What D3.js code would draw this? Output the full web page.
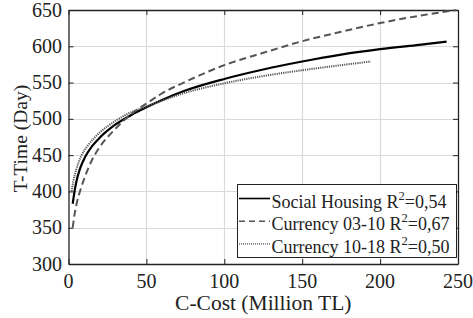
<!DOCTYPE html>
<html><head><meta charset="utf-8"><script src="https://cdn.jsdelivr.net/npm/d3@7"></script></head>
<body style="margin:0">
<script>
// data
var socialX = [2.7, 3.5, 5, 7.5, 10.8, 15, 20, 30, 40, 50, 60, 75, 100, 125, 150, 175, 200, 225, 242.7];
var socialY = [383, 395, 413, 432, 448, 462, 474, 492, 505, 516, 526, 539, 555, 568, 579, 588.5, 596, 602, 606.3];

var cur0310X = [2.7, 3.5, 5, 7.5, 10, 15, 20, 30, 40, 50, 60, 75, 100, 125, 150, 175, 200, 225, 249];
var cur0310Y = [350, 363, 381, 401, 417, 443, 461, 486, 506, 521, 535, 551, 574, 591, 607, 620, 632, 642, 650];

var cur1018X = [2, 3, 5, 8, 12, 20, 30, 40, 50, 60, 75, 100, 125, 150, 175, 194];
var cur1018Y = [400, 413, 430, 448, 462, 481, 497, 509, 517, 525, 536, 549, 559, 567, 574, 579];

var xTicks = [0, 50, 100, 150, 200, 250];
var yTicks = [300, 350, 400, 450, 500, 550, 600, 650];

var legendNames = ["Social Housing", "Currency 03-10", "Currency 10-18"];
var legendR2 = ["0,54", "0,67", "0,50"];

var FONT = "Liberation Serif";

// set the dimensions and margins of the graph
var margin = {top: 10, right: 15, bottom: 54, left: 68.5},
    width = 473 - margin.left - margin.right,
    height = 318 - margin.top - margin.bottom;

var root = d3.select("body")
  .append("svg")
    .attr("width", 473)
    .attr("height", 318)
    .style("font-family", FONT);

var x = d3.scaleLinear().domain([0, 250]).range([margin.left, margin.left + width]);
var y = d3.scaleLinear().domain([300, 650]).range([margin.top + height, margin.top]);

// grid
root.append("g")
  .selectAll("line")
  .data(xTicks.slice(1, -1))
  .enter().append("line")
    .attr("x1", function(d) { return Math.round(x(d)) + 0.5; })
    .attr("x2", function(d) { return Math.round(x(d)) + 0.5; })
    .attr("y1", y(300)).attr("y2", y(650))
    .attr("stroke", "#dadada").attr("stroke-width", 1.2);
root.append("g")
  .selectAll("line")
  .data(yTicks.slice(1, -1))
  .enter().append("line")
    .attr("y1", function(d) { return Math.round(y(d)) + 0.5; })
    .attr("y2", function(d) { return Math.round(y(d)) + 0.5; })
    .attr("x1", x(0)).attr("x2", x(250))
    .attr("stroke", "#dadada").attr("stroke-width", 1.2);

// axes: lines and inward ticks on all four sides
function styleAxis(g) {
  g.attr("font-family", null).attr("font-size", null);
  g.select(".domain").attr("stroke", "#222").attr("stroke-width", 1.3);
  g.selectAll(".tick line").attr("stroke", "#222").attr("stroke-width", 1);
}
root.append("g")
  .attr("transform", "translate(0," + y(300) + ")")
  .call(d3.axisBottom(x).tickValues(xTicks).tickSizeInner(-5).tickSizeOuter(0).tickFormat(""))
  .call(styleAxis);
root.append("g")
  .attr("transform", "translate(0," + y(650) + ")")
  .call(d3.axisTop(x).tickValues(xTicks).tickSizeInner(-5).tickSizeOuter(0).tickFormat(""))
  .call(styleAxis);
root.append("g")
  .attr("transform", "translate(" + x(0) + ",0)")
  .call(d3.axisLeft(y).tickValues(yTicks).tickSizeInner(-5).tickSizeOuter(0).tickFormat(""))
  .call(styleAxis);
root.append("g")
  .attr("transform", "translate(" + x(250) + ",0)")
  .call(d3.axisRight(y).tickValues(yTicks).tickSizeInner(-5).tickSizeOuter(0).tickFormat(""))
  .call(styleAxis);

// tick labels
root.selectAll(".xlab")
  .data(xTicks)
  .enter().append("text")
    .attr("class", "lbl")
    .attr("x", function(d) { return x(d); })
    .attr("y", y(300) + 24)
    .attr("text-anchor", "middle")
    .attr("font-size", 20)
    .attr("fill", "#222")
    .text(function(d) { return d; });
root.selectAll(".ylab")
  .data(yTicks)
  .enter().append("text")
    .attr("class", "lbl")
    .attr("x", x(0) - 6.5)
    .attr("y", function(d) { return y(d) + 6.5; })
    .attr("text-anchor", "end")
    .attr("font-size", 20)
    .attr("fill", "#222")
    .text(function(d) { return d; });

// axis titles
root.append("text")
  .attr("class", "lbl")
  .attr("x", x(125))
  .attr("y", y(300) + 46)
  .attr("text-anchor", "middle")
  .attr("font-size", 21.5)
  .attr("fill", "#222")
  .text("C-Cost (Million TL)");
root.append("text")
  .attr("class", "lbl")
  .attr("transform", "translate(26.5," + (margin.top + height / 2 + 1.5) + ")rotate(-90)")
  .attr("text-anchor", "middle")
  .attr("font-size", 19.5)
  .attr("fill", "#222")
  .text("T-Time (Day)");

// curves
var series = [
  {xs: socialX, ys: socialY, color: "#000", dash: null, w: 2.2},
  {xs: cur0310X, ys: cur0310Y, color: "#555", dash: "7,4", w: 2},
  {xs: cur1018X, ys: cur1018Y, color: "#555", dash: "1.2,1", w: 2}
];
var line = d3.line()
  .x(function(d) { return x(d[0]); })
  .y(function(d) { return y(d[1]); })
  .curve(d3.curveMonotoneX);

root.selectAll(".curve")
  .data(series)
  .enter().append("path")
    .attr("class", "curve")
    .attr("fill", "none")
    .attr("stroke", function(d) { return d.color; })
    .attr("stroke-width", function(d) { return d.w; })
    .attr("stroke-dasharray", function(d) { return d.dash; })
    .attr("d", function(d) { return line(d3.zip(d.xs, d.ys)); });

// legend
var lgX = 237, lgY = 184;
root.append("rect")
  .attr("x", lgX + 0.5).attr("y", lgY + 0.5)
  .attr("width", 219).attr("height", 73)
  .attr("fill", "#fff").attr("stroke", "#222").attr("stroke-width", 1);

root.selectAll(".lgline")
  .data(series)
  .enter().append("line")
    .attr("x1", lgX + 2).attr("x2", lgX + 33)
    .attr("y1", function(d, i) { return lgY + 14.5 + i * 22.7; })
    .attr("y2", function(d, i) { return lgY + 14.5 + i * 22.7; })
    .attr("stroke", function(d) { return d.color; })
    .attr("stroke-width", function(d, i) { return i == 2 ? 1.2 : 1.6; })
    .attr("stroke-dasharray", function(d, i) { return i == 1 ? "6,4" : (i == 2 ? "1,1" : null); });
var lt = root.selectAll(".lgtext")
  .data(series)
  .enter().append("text")
    .attr("class", "lbl")
    .attr("x", lgX + 34.5)
    .attr("y", function(d, i) { return lgY + 23.5 + i * 22.7; })
    .attr("font-size", 18)
    .attr("fill", "#222");
lt.append("tspan").text(function(d, i) { return legendNames[i] + " R"; });
lt.append("tspan").attr("dy", -8).attr("font-size", 12.5).text("2");
lt.append("tspan").attr("dy", 8).text(function(d, i) { return "=" + legendR2[i]; });

// set the serif face on every label, and again once the face is loaded
function applyFont() {
  root.selectAll("text.lbl").style("font-family", FONT);
  root.selectAll("text.lbl tspan").style("font-family", FONT);
}
applyFont();
if (document.fonts && document.fonts.load) {
  document.fonts.load("20px \"" + FONT + "\"").then(applyFont);
}
</script>
</body>
</html>
